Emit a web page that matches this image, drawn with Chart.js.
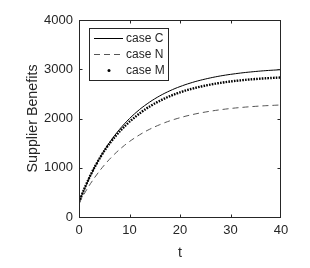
<!DOCTYPE html>
<html>
<head>
<meta charset="utf-8">
<script src="https://cdn.jsdelivr.net/npm/chart.js@4.4.1/dist/chart.umd.min.js"></script>
<style>
  html, body { margin: 0; padding: 0; background: #fff; }
  #wrap { width: 310px; height: 268px; }
</style>
</head>
<body>
<div id="wrap"><canvas id="mycanvas" width="310" height="268"></canvas></div>
<script>
// time steps 0..40
var tValues = [0,1,2,3,4,5,6,7,8,9,10,11,12,13,14,15,16,17,18,19,20,
  21,22,23,24,25,26,27,28,29,30,31,32,33,34,35,36,37,38,39,40];

var caseC = [300,552,781,989,1178,1350,1506,1647,1776,1893,1999,2095,2183,2262,2334,2400,2460,2514,2563,2608,2648,
  2685,2718,2749,2776,2801,2824,2845,2864,2881,2896,2910,2923,2935,2945,2955,2964,2972,2979,2985,2991];

var caseN = [280,465,634,787,926,1053,1168,1273,1368,1454,1533,1604,1669,1729,1782,1831,1875,1916,1953,1986,2016,
  2044,2069,2092,2113,2131,2148,2164,2178,2191,2203,2214,2223,2232,2240,2247,2254,2260,2265,2270,2275];

var caseM = [300,560,790,995,1175,1340,1485,1615,1732,1838,1935,2021,2103,2177,2244,2304,2359,2409,2454,2494,2531,
  2564,2594,2621,2646,2668,2688,2707,2723,2738,2752,2764,2775,2785,2794,2802,2810,2816,2822,2828,2833];

var seriesNames = ['case C', 'case N', 'case M'];
var xTicks = [0, 10, 20, 30, 40];
var yTicks = [0, 1000, 2000, 3000, 4000];

var FONT = '"Liberation Sans", Arial, Helvetica, sans-serif';
var INK = '#262626';

function pts(vals) {
  var out = [];
  for (var i in tValues) out.push({x: tValues[i], y: vals[i]});
  return out;
}

// box round the axes with inward ticks, like matlab
var boxPlugin = {
  id: 'box',
  afterDatasetsDraw: function(chart) {
    var ctx = chart.ctx, a = chart.chartArea;
    var xs = chart.scales.x, ys = chart.scales.y;
    var L = Math.round(a.left) + 0.5, R = Math.round(a.right) - 0.5;
    var T = Math.round(a.top) + 0.5, B = Math.round(a.bottom) + 0.5;
    ctx.save();
    ctx.strokeStyle = INK;
    ctx.lineWidth = 1;
    ctx.strokeRect(L, T, R - L, B - T);
    ctx.beginPath();
    xTicks.forEach(function(v) {
      var px = Math.min(R, Math.round(xs.getPixelForValue(v)) + 0.5);
      ctx.moveTo(px, B); ctx.lineTo(px, B - 3);
      ctx.moveTo(px, T); ctx.lineTo(px, T + 3);
    });
    yTicks.forEach(function(v) {
      var py = Math.max(T, Math.round(ys.getPixelForValue(v)) + 0.5);
      ctx.moveTo(L, py); ctx.lineTo(L + 3, py);
      ctx.moveTo(R, py); ctx.lineTo(R - 3, py);
    });
    ctx.stroke();
    ctx.restore();
  }
};

// legend box in the upper left corner
var legendPlugin = {
  id: 'boxLegend',
  afterDraw: function(chart) {
    var ctx = chart.ctx, a = chart.chartArea;
    var x0 = a.left + 10, y0 = a.top + 8;
    ctx.save();
    ctx.fillStyle = '#fff';
    ctx.fillRect(x0, y0, 79, 52);
    ctx.strokeStyle = INK;
    ctx.lineWidth = 1;
    ctx.strokeRect(x0 + 0.5, y0 + 0.5, 79, 52);
    ctx.font = '12px ' + FONT;
    ctx.textBaseline = 'middle';
    chart.data.datasets.forEach(function(ds, i) {
      var y = Math.round(y0 + 10 + i * 16) + 0.5;
      ctx.strokeStyle = ds.borderColor;
      ctx.fillStyle = ds.borderColor;
      if (i == 2) {
        ctx.beginPath();
        ctx.arc(x0 + 20, y, 1.5, 0, Math.PI * 2);
        ctx.fill();
      } else {
        ctx.lineWidth = ds.borderWidth;
        ctx.setLineDash(ds.borderDash || []);
        ctx.beginPath();
        ctx.moveTo(x0 + 5, y); ctx.lineTo(x0 + 34, y);
        ctx.stroke();
        ctx.setLineDash([]);
      }
      ctx.fillStyle = INK;
      ctx.fillText(ds.label, x0 + 37, y);
    });
    ctx.restore();
  }
};

var chartdata = {
  datasets: [
    {
      label: seriesNames[0],
      data: pts(caseC),
      borderColor: '#000',
      borderWidth: 1,
      pointRadius: 0,
      tension: 0.3
    },
    {
      label: seriesNames[1],
      data: pts(caseN),
      borderColor: '#555',
      borderWidth: 1,
      borderDash: [6, 4],
      pointRadius: 0,
      tension: 0.3
    },
    {
      label: seriesNames[2],
      data: pts(caseM),
      borderColor: '#000',
      borderWidth: 2.4,
      borderDash: [1.6, 1.2],
      pointRadius: 0,
      tension: 0.3
    }
  ]
};

var ctx = document.getElementById('mycanvas');

var chart = new Chart(ctx, {
  type: 'line',
  data: chartdata,
  options: {
    responsive: false,
    animation: false,
    events: [],
    layout: { padding: { top: 20, right: 29, left: 0, bottom: 0 } },
    plugins: { legend: { display: false }, tooltip: { enabled: false } },
    scales: {
      x: {
        type: 'linear',
        min: 0, max: 40,
        afterBuildTicks: function(s) { s.ticks = xTicks.map(function(v) { return {value: v}; }); },
        afterFit: function(s) { s.height = 51; },
        grid: { display: false, drawTicks: false },
        border: { display: false },
        ticks: {
          color: INK, padding: 6, maxRotation: 0, font: { family: FONT, size: 13 },
          callback: function(v) { return String(v); }
        },
        title: { display: true, text: 't', color: INK, padding: { top: 0, bottom: 6 }, font: { family: FONT, size: 14.3 } }
      },
      y: {
        type: 'linear',
        min: 0, max: 4000,
        afterBuildTicks: function(s) { s.ticks = yTicks.map(function(v) { return {value: v}; }); },
        afterFit: function(s) { s.width = 79; },
        grid: { display: false, drawTicks: false },
        border: { display: false },
        ticks: {
          color: INK, padding: 6, font: { family: FONT, size: 13 },
          callback: function(v) { return String(v); }
        },
        title: { display: true, text: 'Supplier Benefits', color: INK, padding: { top: 24, bottom: 0 }, font: { family: FONT, size: 14.3 } }
      }
    }
  },
  plugins: [boxPlugin, legendPlugin]
});
</script>
</body>
</html>
